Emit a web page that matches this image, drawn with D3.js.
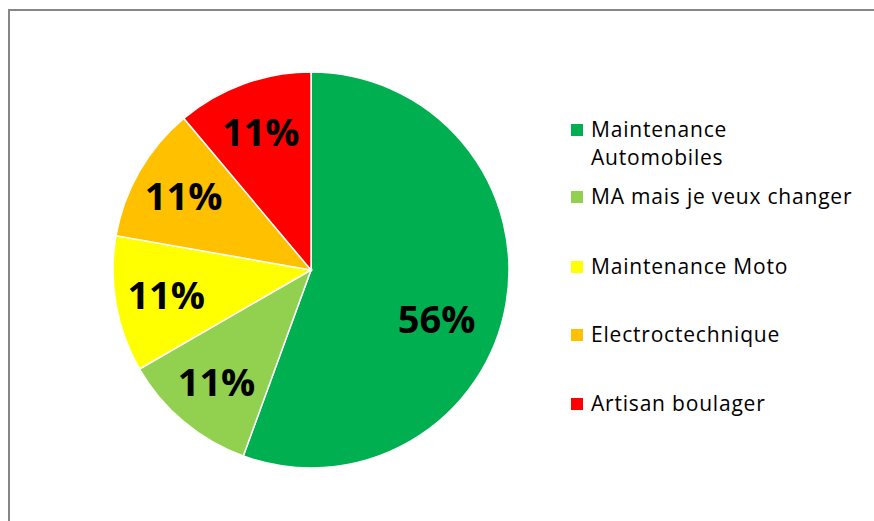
<!DOCTYPE html>
<html>
<head>
<meta charset="utf-8">
<script src="https://cdn.jsdelivr.net/npm/d3@7"></script>
<style>
  html, body { margin: 0; padding: 0; background: #fff; }
  svg { display: block; }
</style>
</head>
<body>
<script>
// chart data
var categories = ["Maintenance Automobiles", "MA mais je veux changer", "Maintenance Moto", "Electroctechnique", "Artisan boulager"];
var legendLines = [["Maintenance", "Automobiles"], ["MA mais je veux changer"], ["Maintenance Moto"], ["Electroctechnique"], ["Artisan boulager"]];
var values = [5, 1, 1, 1, 1];
var colors = ["#00B050", "#92D050", "#FFFF00", "#FFC000", "#FF0000"];

var width = 874,
    height = 521,
    cx = 311,
    cy = 270,
    radius = 198;

var svg = d3.select("body").append("svg")
    .attr("width", width)
    .attr("height", height);

// chart area frame (runs off the right and bottom edges)
svg.append("rect")
    .attr("x", 9).attr("y", 10)
    .attr("width", 900).attr("height", 600)
    .attr("fill", "none")
    .attr("stroke", "#868686")
    .attr("stroke-width", 2);

var color = d3.scaleOrdinal().domain(categories).range(colors);
var total = d3.sum(values);
var fmt = d3.format(".0%");

var pie = d3.pie().sort(null).value(function(d) { return d.value; });
var data = categories.map(function(c, i) { return { name: c, value: values[i] }; });
var arcs = pie(data);

var arc = d3.arc().innerRadius(0).outerRadius(radius);
var labelArc = d3.arc().innerRadius(147).outerRadius(147);

var g = svg.append("g").attr("transform", "translate(" + cx + "," + cy + ")");

g.selectAll("path")
    .data(arcs)
  .enter().append("path")
    .attr("d", arc)
    .attr("fill", function(d) { return color(d.data.name); })
    .attr("stroke", "#fff")
    .attr("stroke-width", 1.5);

g.selectAll("text.lbl")
    .data(arcs)
  .enter().append("text")
    .attr("class", "lbl")
    .attr("transform", function(d) {
      var c = labelArc.centroid(d);
      // the big slice label sits a bit lower in the original
      if (d.value / total > 0.5) c = d3.arc().innerRadius(135).outerRadius(135)
          .startAngle(d.startAngle).endAngle(d.endAngle + 0.4).centroid();
      return "translate(" + c[0] + "," + c[1] + ")";
    })
    .attr("text-anchor", "middle")
    .attr("dy", "0.36em")
    .style("font-family", "'Open Sans', sans-serif")
    .style("font-weight", "bold")
    .style("font-size", "38px")
    .style("fill", "#000")
    .text(function(d) { return fmt(d.value / total); });

// legend
var legendY = [130, 197, 267, 335, 404];
var legend = svg.append("g");

var item = legend.selectAll("g")
    .data(categories)
  .enter().append("g")
    .attr("transform", function(d, i) { return "translate(571," + legendY[i] + ")"; });

item.append("rect")
    .attr("x", 0).attr("y", -6)
    .attr("width", 12).attr("height", 12)
    .attr("fill", function(d) { return color(d); });

item.append("text")
    .style("font-family", "'Open Sans', sans-serif")
    .style("font-size", "21px")
    .style("letter-spacing", "0.8px")
    .style("fill", "#000")
    .selectAll("tspan")
    .data(function(d, i) { return legendLines[i]; })
  .enter().append("tspan")
    .attr("x", 20)
    .attr("y", function(d, j) { return j * 28; })
    .attr("dy", "0.35em")
    .text(function(d) { return d; });
</script>
</body>
</html>
